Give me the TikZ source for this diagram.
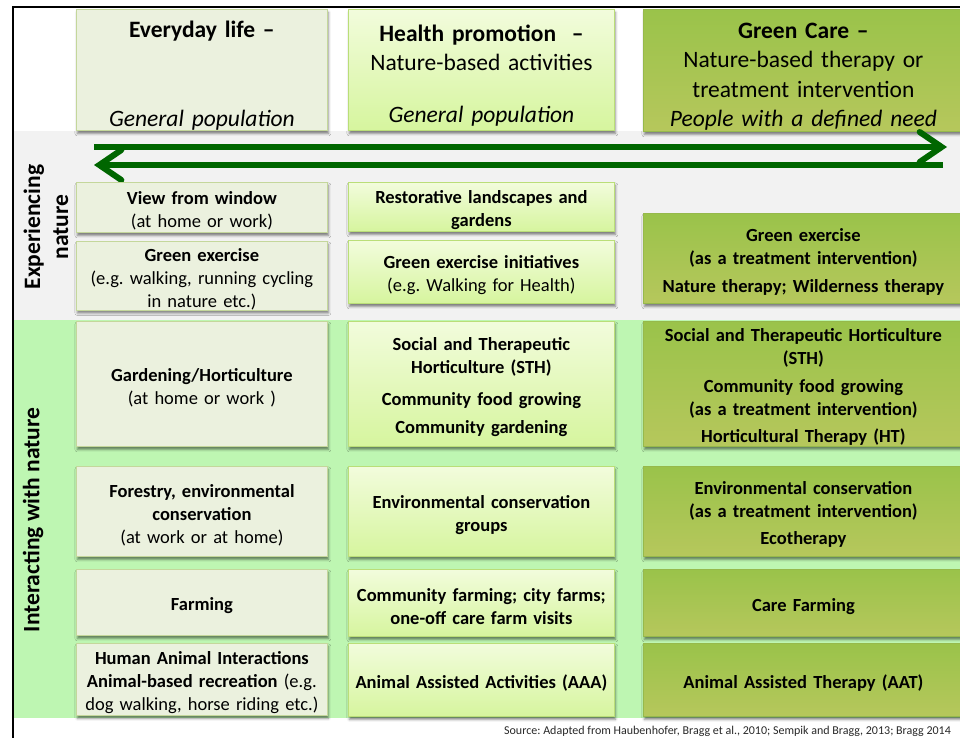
\documentclass[tikz,border=0pt]{standalone}
\usepackage{fontspec}
\setmainfont{Carlito}
\frenchspacing
\usetikzlibrary{arrows.meta,shadows.blur}
\definecolor{c1fill}{RGB}{235,241,222}
\definecolor{c1draw}{RGB}{196,215,155}
\definecolor{c2top}{RGB}{242,252,220}
\definecolor{c2bot}{RGB}{214,245,158}
\definecolor{c2draw}{RGB}{186,222,120}
\definecolor{c3top}{RGB}{154,195,74}
\definecolor{c3bot}{RGB}{182,199,92}
\definecolor{c3draw}{RGB}{150,185,75}
\definecolor{bandgray}{RGB}{242,242,242}
\definecolor{bandgreen}{RGB}{190,246,178}
\definecolor{arrowgreen}{RGB}{0,102,0}
\definecolor{srcgray}{RGB}{40,40,40}
\tikzset{
  boxbase/.style={anchor=north west, align=center, inner xsep=2pt, inner ysep=0pt,
    line width=0.8pt, font=\fontsize{18.5}{23}\selectfont,
    execute at begin node={\rule{0pt}{20pt}},
    blur shadow={shadow xshift=1pt, shadow yshift=-3pt, shadow blur radius=2.5pt, shadow opacity=50}},
  c1box/.style={boxbase, fill=c1fill, draw=c1draw, text width=247pt, minimum width=251pt},
  c2box/.style={boxbase, top color=c2top, bottom color=c2bot, draw=c2draw, text width=262pt, minimum width=266pt},
  c3box/.style={boxbase, top color=c3top, bottom color=c3bot, draw=c3draw, text width=316pt, minimum width=320pt},
  headfont/.style={font=\fontsize{23.5}{29.3}\selectfont, execute at begin node={\rule{0pt}{28pt}}},
  sidelabel/.style={rotate=90, align=center, font=\fontsize{23.5}{28}\selectfont\bfseries},
  twoway/.style={line width=6pt, draw=arrowgreen, -{Straight Barb[length=22pt, width=30pt, line cap=round]}},
}
\begin{document}
\begin{tikzpicture}[x=1pt,y=-1pt]
\useasboundingbox (0,0) rectangle (960,737);
\clip (0,0) rectangle (960,737);
% background bands
\fill[bandgray] (13,131) rectangle (965,320);
\fill[bandgreen] (13,320) rectangle (965,718);
% header boxes
\node[c1box, headfont, minimum height=121pt] (hd1) at (76,9)
  {\textbf{Everyday life –}\\[59pt]\textit{General population}};
\node[c2box, headfont, minimum height=121pt] (hd2) at (348,9)
  {\textbf{Health promotion~ –}\\Nature-based activities\\[23pt]\textit{General population}};
\node[c3box, headfont, minimum height=122pt] (hd3) at (643,9)
  {\textbf{Green Care –}\\Nature-based therapy or\\treatment intervention\\\textit{People with a defined need}};
% arrows
\coordinate (rA) at (94,147);
\coordinate (rB) at (947,147);
\coordinate (lA) at (943,165);
\coordinate (lB) at (94,165);
\draw[twoway] (rA) -- (rB);
\draw[twoway] (lA) -- (lB);
% experiencing nature
\node[c1box, minimum height=50pt] (vw) at (76,182)
  {\textbf{View from window}\\(at home or work)};
\node[c1box, minimum height=63pt] (ge1) at (76,241)
  {\textbf{Green exercise}\\(e.g. walking, running cycling\\in nature etc.)};
\node[c2box, minimum height=49pt] (rest) at (348,182)
  {\textbf{Restorative landscapes and}\\\textbf{gardens}};
\node[c2box, minimum height=63pt] (gei) at (348,240)
  {\textbf{Green exercise initiatives}\\(e.g. Walking for Health)};
\node[c3box, minimum height=90pt] (gex3) at (643,213)
  {\textbf{Green exercise}\\\textbf{(as a treatment intervention)}\\[5pt]\textbf{Nature therapy; Wilderness therapy}};
% interacting with nature
\node[c1box, minimum height=125pt] (gard) at (76,321)
  {\textbf{Gardening/Horticulture}\\(at home or work )};
\node[c2box, minimum height=125pt] (sth) at (348,321)
  {\textbf{Social and Therapeutic}\\\textbf{Horticulture (STH)}\\[9pt]\textbf{Community food growing}\\[5pt]\textbf{Community gardening}};
\node[c3box, minimum height=125pt] (sth3) at (643,321)
  {\textbf{Social and Therapeutic Horticulture}\\\textbf{(STH)}\\[5pt]\textbf{Community food growing}\\\textbf{(as a treatment intervention)}\\[4pt]\textbf{Horticultural Therapy (HT)}};
\node[c1box, minimum height=90pt] (forest) at (76,466)
  {\textbf{Forestry, environmental}\\\textbf{conservation}\\(at work or at home)};
\node[c2box, minimum height=90pt] (env2) at (348,466)
  {\textbf{Environmental conservation}\\\textbf{groups}};
\node[c3box, minimum height=90pt] (env3) at (643,466)
  {\textbf{Environmental conservation}\\\textbf{(as a treatment intervention)}\\[4pt]\textbf{Ecotherapy}};
\node[c1box, minimum height=66pt] (farm) at (76,569)
  {\textbf{Farming}};
\node[c2box, minimum height=67pt] (cfarm) at (348,569)
  {\textbf{Community farming; city farms;}\\\textbf{one-off care farm visits}};
\node[c3box, minimum height=67pt] (cf3) at (643,569)
  {\textbf{Care Farming}};
\node[c1box, minimum height=72pt] (hai) at (76,643)
  {\textbf{Human Animal Interactions}\\\textbf{Animal-based recreation} (e.g.\\dog walking, horse riding etc.)};
\node[c2box, minimum height=73pt] (aaa) at (348,643)
  {\textbf{Animal Assisted Activities (AAA)}};
\node[c3box, minimum height=73pt] (aat) at (643,643)
  {\textbf{Animal Assisted Therapy (AAT)}};
% side labels
\node[sidelabel] (expl) at (46,227) {Experiencing\\nature};
\node[sidelabel] (intl) at (33,520) {Interacting with nature};
% source
\node[anchor=east, text=srcgray, font=\fontsize{12}{14}\selectfont, inner sep=0pt] (src) at (951,731)
  {Source: Adapted from Haubenhofer, Bragg et al., 2010; Sempik and Bragg, 2013; Bragg 2014};
% frame
\draw[line width=2pt, line cap=rect] (13,745) -- (13,7) -- (970,7);
\end{tikzpicture}
\end{document}
